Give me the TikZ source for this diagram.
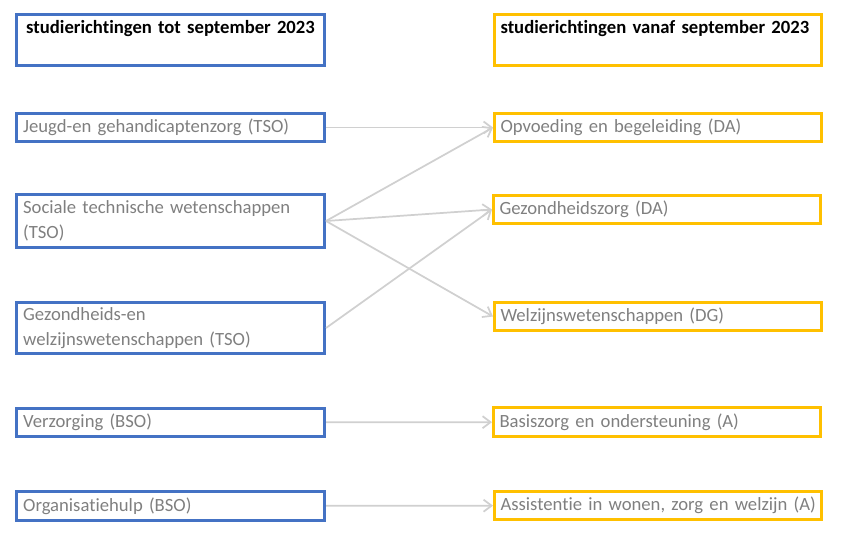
\documentclass[tikz,border=0pt]{standalone}
\usepackage{fontspec}
\setmainfont[Ligatures=NoCommon]{Carlito}
\usetikzlibrary{arrows.meta}
\definecolor{oudblauw}{HTML}{4472C4}
\definecolor{nieuwgeel}{HTML}{FFC000}
\definecolor{tekstgrijs}{HTML}{7F7F7F}
\definecolor{pijlgrijs}{HTML}{D0D0D0}
\newcommand{\vakfont}{\fontsize{14pt}{18.5pt}\selectfont}
\begin{document}
\begin{tikzpicture}[x=0.75pt,y=-0.75pt]
  \useasboundingbox (0,0) rectangle (845,539);
  \begin{scope}[every node/.style={draw=oudblauw,line width=2.25pt,text=tekstgrijs,font=\vakfont,inner xsep=5pt,inner ysep=3pt,text width=221pt,align=left,minimum height=21.5pt}]
  \node (kopoud) at (170.5,40) [text=black,font=\vakfont\bfseries,align=center,text height=11.4pt,text depth=20.85pt] {studierichtingen tot september 2023};
  \node (jeugd) at (170.5,127.5) {Jeugd-en gehandicaptenzorg (TSO)};
  \node (sociale) at (170.5,221) [minimum height=39.75pt] {Sociale technische wetenschappen (TSO)};
  \node (gezwel) at (170.5,328) [minimum height=38.25pt] {Gezondheids-en\\welzijnswetenschappen (TSO)};
  \node (verzorging) at (170.5,422.5) {Verzorging (BSO)};
  \node (orghulp) at (170.5,506) {Organisatiehulp (BSO)};
  \end{scope}
  \begin{scope}[every node/.style={draw=nieuwgeel,line width=2.25pt,text=tekstgrijs,font=\vakfont,inner xsep=4.5pt,inner ysep=3pt,text width=236.25pt,align=left,minimum height=21.5pt}]
  \node (kopnieuw) at (658,40) [text=black,font=\vakfont\bfseries,text height=11.4pt,text depth=20.85pt] {studierichtingen vanaf september 2023};
  \node (opvoeding) at (658,127.5) {Opvoeding en begeleiding (DA)};
  \node (gezzorg) at (657,209.5) {Gezondheidszorg (DA)};
  \node (welzijn) at (658,316.5) {Welzijnswetenschappen (DG)};
  \node (basiszorg) at (657,422) {Basiszorg en ondersteuning (A)};
  \node (assist) at (658,505.5) {\mbox{Assistentie in wonen, zorg en welzijn (A)}};
  \end{scope}
  \begin{scope}[every edge/.style={draw=pijlgrijs,line width=1.3pt,-{Straight Barb[length=6pt,width=9pt]}}]
  \path (jeugd) edge (opvoeding);
  \path (sociale.east) edge (opvoeding.west);
  \path (sociale.east) edge (gezzorg.west);
  \path (sociale.east) edge (welzijn.west);
  \path (gezwel.east) edge (gezzorg.west);
  \path (verzorging) edge (basiszorg);
  \path (orghulp) edge (assist);
  \end{scope}
\end{tikzpicture}
\end{document}
